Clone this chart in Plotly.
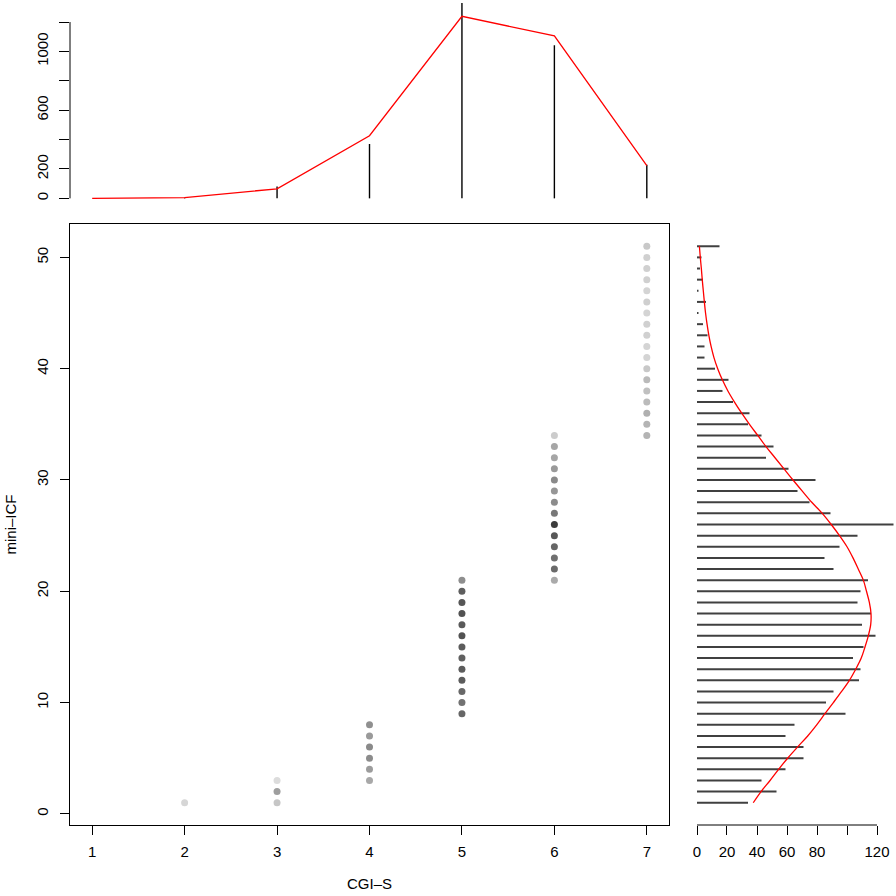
# scatter of mini-ICF vs CGI-S with marginal counts (top) and (right)
import plotly.graph_objects as go

# CGI-S categories and marginal counts (top panel)
cgi_levels = [1, 2, 3, 4, 5, 6, 7]
cgi_counts = [0, 4, 80, 370, 1330, 1042, 228]
cgi_curve = [0, 5, 65, 426, 1239, 1106, 222]

# mini-ICF values and marginal counts (right panel)
icf_levels = list(range(1, 52))
icf_counts = [34, 53, 43, 59, 71, 71, 59, 65, 99, 86,
              91, 108, 109, 104, 111, 119, 110, 116, 107, 109,
              114, 91, 85, 95, 107, 131, 89, 75, 67, 79,
              61, 46, 51, 43, 34, 35, 24, 17, 21, 12,
              5, 5, 7, 4, 1, 6, 1, 4, 2, 3, 15]
icf_curve = [37.5, 42.7, 48.7, 54.4, 60.4, 67, 73.8, 79.8, 85.3, 90.9,
             96.4, 101.6, 105.8, 109.5, 112, 114.2, 115.8, 116, 114.9, 113,
             110.9, 107.5, 104, 100, 95, 89.5, 83.5, 76.5, 70.2, 64,
             58, 52, 46, 40.5, 35, 29.8, 25, 20.6, 16.9, 13.8,
             11.3, 9.4, 7.9, 6.7, 5.7, 4.9, 4.2, 3.5, 2.9, 2.2, 1.6]

# observed (CGI-S, mini-ICF) pairs and their grey shade (darker = more cases)
pt_cgi = ([2] + [3] * 3 + [4] * 6 + [5] * 13 + [6] * 14 + [7] * 18)
pt_icf = ([1] + [1, 2, 3] + list(range(3, 9)) + list(range(9, 22))
          + list(range(21, 35)) + list(range(34, 52)))
pt_shade = ([214]
            + [198, 158, 220]
            + [168, 156, 140, 138, 154, 144]
            + [102, 114, 104, 92, 92, 96, 92, 82, 90, 82, 86, 94, 142]
            + [170, 106, 112, 102, 88, 60, 120, 140, 150, 138, 154, 166, 166, 204]
            + [180, 180, 176, 187, 192, 186, 200, 212, 212, 208, 208, 212, 207,
               212, 208, 208, 208, 200])

top_ticks = [0, 200, 400, 600, 800, 1000, 1200]
top_ticktext = ["0", "200", "", "600", "", "1000", ""]
right_ticks = [0, 20, 40, 60, 80, 100, 120]
right_ticktext = ["0", "20", "40", "60", "80", "", "120"]

W = 896.0
font = dict(family="Liberation Sans, Arial, sans-serif", size=15, color="black")


def spikes(pos, vals, vertical=True):
    # type="h" style segments from 0 to each value, separated by None
    a, b = [], []
    for p, v in zip(pos, vals):
        a += [p, p, None]
        b += [0, v, None]
    return (a, b) if vertical else (b, a)


fig = go.Figure()

# main scatter
fig.add_trace(go.Scatter(
    x=pt_cgi, y=pt_icf, mode="markers",
    marker=dict(size=7, color=[f"rgb({s},{s},{s})" for s in pt_shade], line=dict(width=0)),
    xaxis="x", yaxis="y", showlegend=False))

# top marginal: counts as thin vertical lines + red line
sx, sy = spikes(cgi_levels, cgi_counts)
fig.add_trace(go.Scatter(
    x=sx, y=sy, mode="lines", line=dict(color="black", width=1.4),
    xaxis="x2", yaxis="y2", showlegend=False))
fig.add_trace(go.Scatter(
    x=cgi_levels, y=cgi_curve, mode="lines", line=dict(color="red", width=1.3),
    xaxis="x2", yaxis="y2", showlegend=False))

# right marginal: counts as horizontal lines + red curve
hx, hy = spikes(icf_levels, icf_counts, vertical=False)
fig.add_trace(go.Scatter(
    x=hx, y=hy, mode="lines", line=dict(color="#404040", width=2),
    xaxis="x3", yaxis="y3", showlegend=False))
fig.add_trace(go.Scatter(
    x=icf_curve, y=icf_levels, mode="lines", line=dict(color="red", width=1.3, shape="spline"),
    xaxis="x3", yaxis="y3", showlegend=False))

main_xdom = [70 / W, 669 / W]
main_ydom = [1 - 825 / W, 1 - 224 / W]

fig.update_layout(
    width=896, height=896,
    margin=dict(l=0, r=0, t=0, b=0),
    paper_bgcolor="white", plot_bgcolor="white",
    font=font,
    xaxis=dict(domain=main_xdom, range=[0.76, 7.24], tickvals=cgi_levels,
               showline=True, mirror=True, linecolor="black", linewidth=1,
               ticks="outside", ticklen=9, tickcolor="black", showgrid=False,
               zeroline=False, ticklabelstandoff=4, tickfont=font),
    yaxis=dict(domain=main_ydom, range=[-1, 53], tickvals=[0, 10, 20, 30, 40, 50],
               showline=True, mirror=True, linecolor="black", linewidth=1,
               ticks="outside", ticklen=9, tickcolor="black", showgrid=False,
               zeroline=False, tickangle=-90, ticklabelstandoff=6, tickfont=font),
    xaxis2=dict(domain=main_xdom, range=[0.76, 7.24], anchor="y2", visible=False),
    yaxis2=dict(domain=[1 - 206 / W, 1.0], range=[-52, 1350], anchor="x2",
                tickvals=top_ticks, ticktext=top_ticktext,
                showline=False, ticks="outside", ticklen=10, tickcolor="black",
                showgrid=False, zeroline=False, tickangle=-90,
                ticklabelstandoff=5, tickfont=font),
    xaxis3=dict(domain=[689 / W, 1.0], range=[-5.33, 132.67], anchor="y3",
                tickvals=right_ticks, ticktext=right_ticktext,
                showline=False, ticks="outside", ticklen=9, tickcolor="black",
                showgrid=False, zeroline=False, ticklabelstandoff=4, tickfont=font),
    yaxis3=dict(domain=main_ydom, range=[-1, 53], anchor="x3", visible=False),
)

# axis lines that span only the tick range (as in base R graphics)
fig.add_shape(type="line", xref="x3", yref="paper",
              x0=right_ticks[0], x1=right_ticks[-1], y0=main_ydom[0], y1=main_ydom[0],
              line=dict(color="black", width=1))
fig.add_shape(type="line", xref="paper", yref="y2",
              x0=main_xdom[0], x1=main_xdom[0], y0=top_ticks[0], y1=top_ticks[-1],
              line=dict(color="black", width=1))

fig.add_annotation(text="CGI\u2013S", x=(main_xdom[0] + main_xdom[1]) / 2, y=1 - 883 / W,
                   xref="paper", yref="paper", xanchor="center", yanchor="middle",
                   showarrow=False, font=font)
fig.add_annotation(text="mini\u2013ICF", x=10 / W, y=(main_ydom[0] + main_ydom[1]) / 2,
                   xref="paper", yref="paper", xanchor="center", yanchor="middle",
                   showarrow=False, textangle=-90, font=font)

# drop the default page margin so the 896px figure fills the window
fig.write_html("out.html", config={"displayModeBar": False},
               post_script="document.body.style.margin='0';")
